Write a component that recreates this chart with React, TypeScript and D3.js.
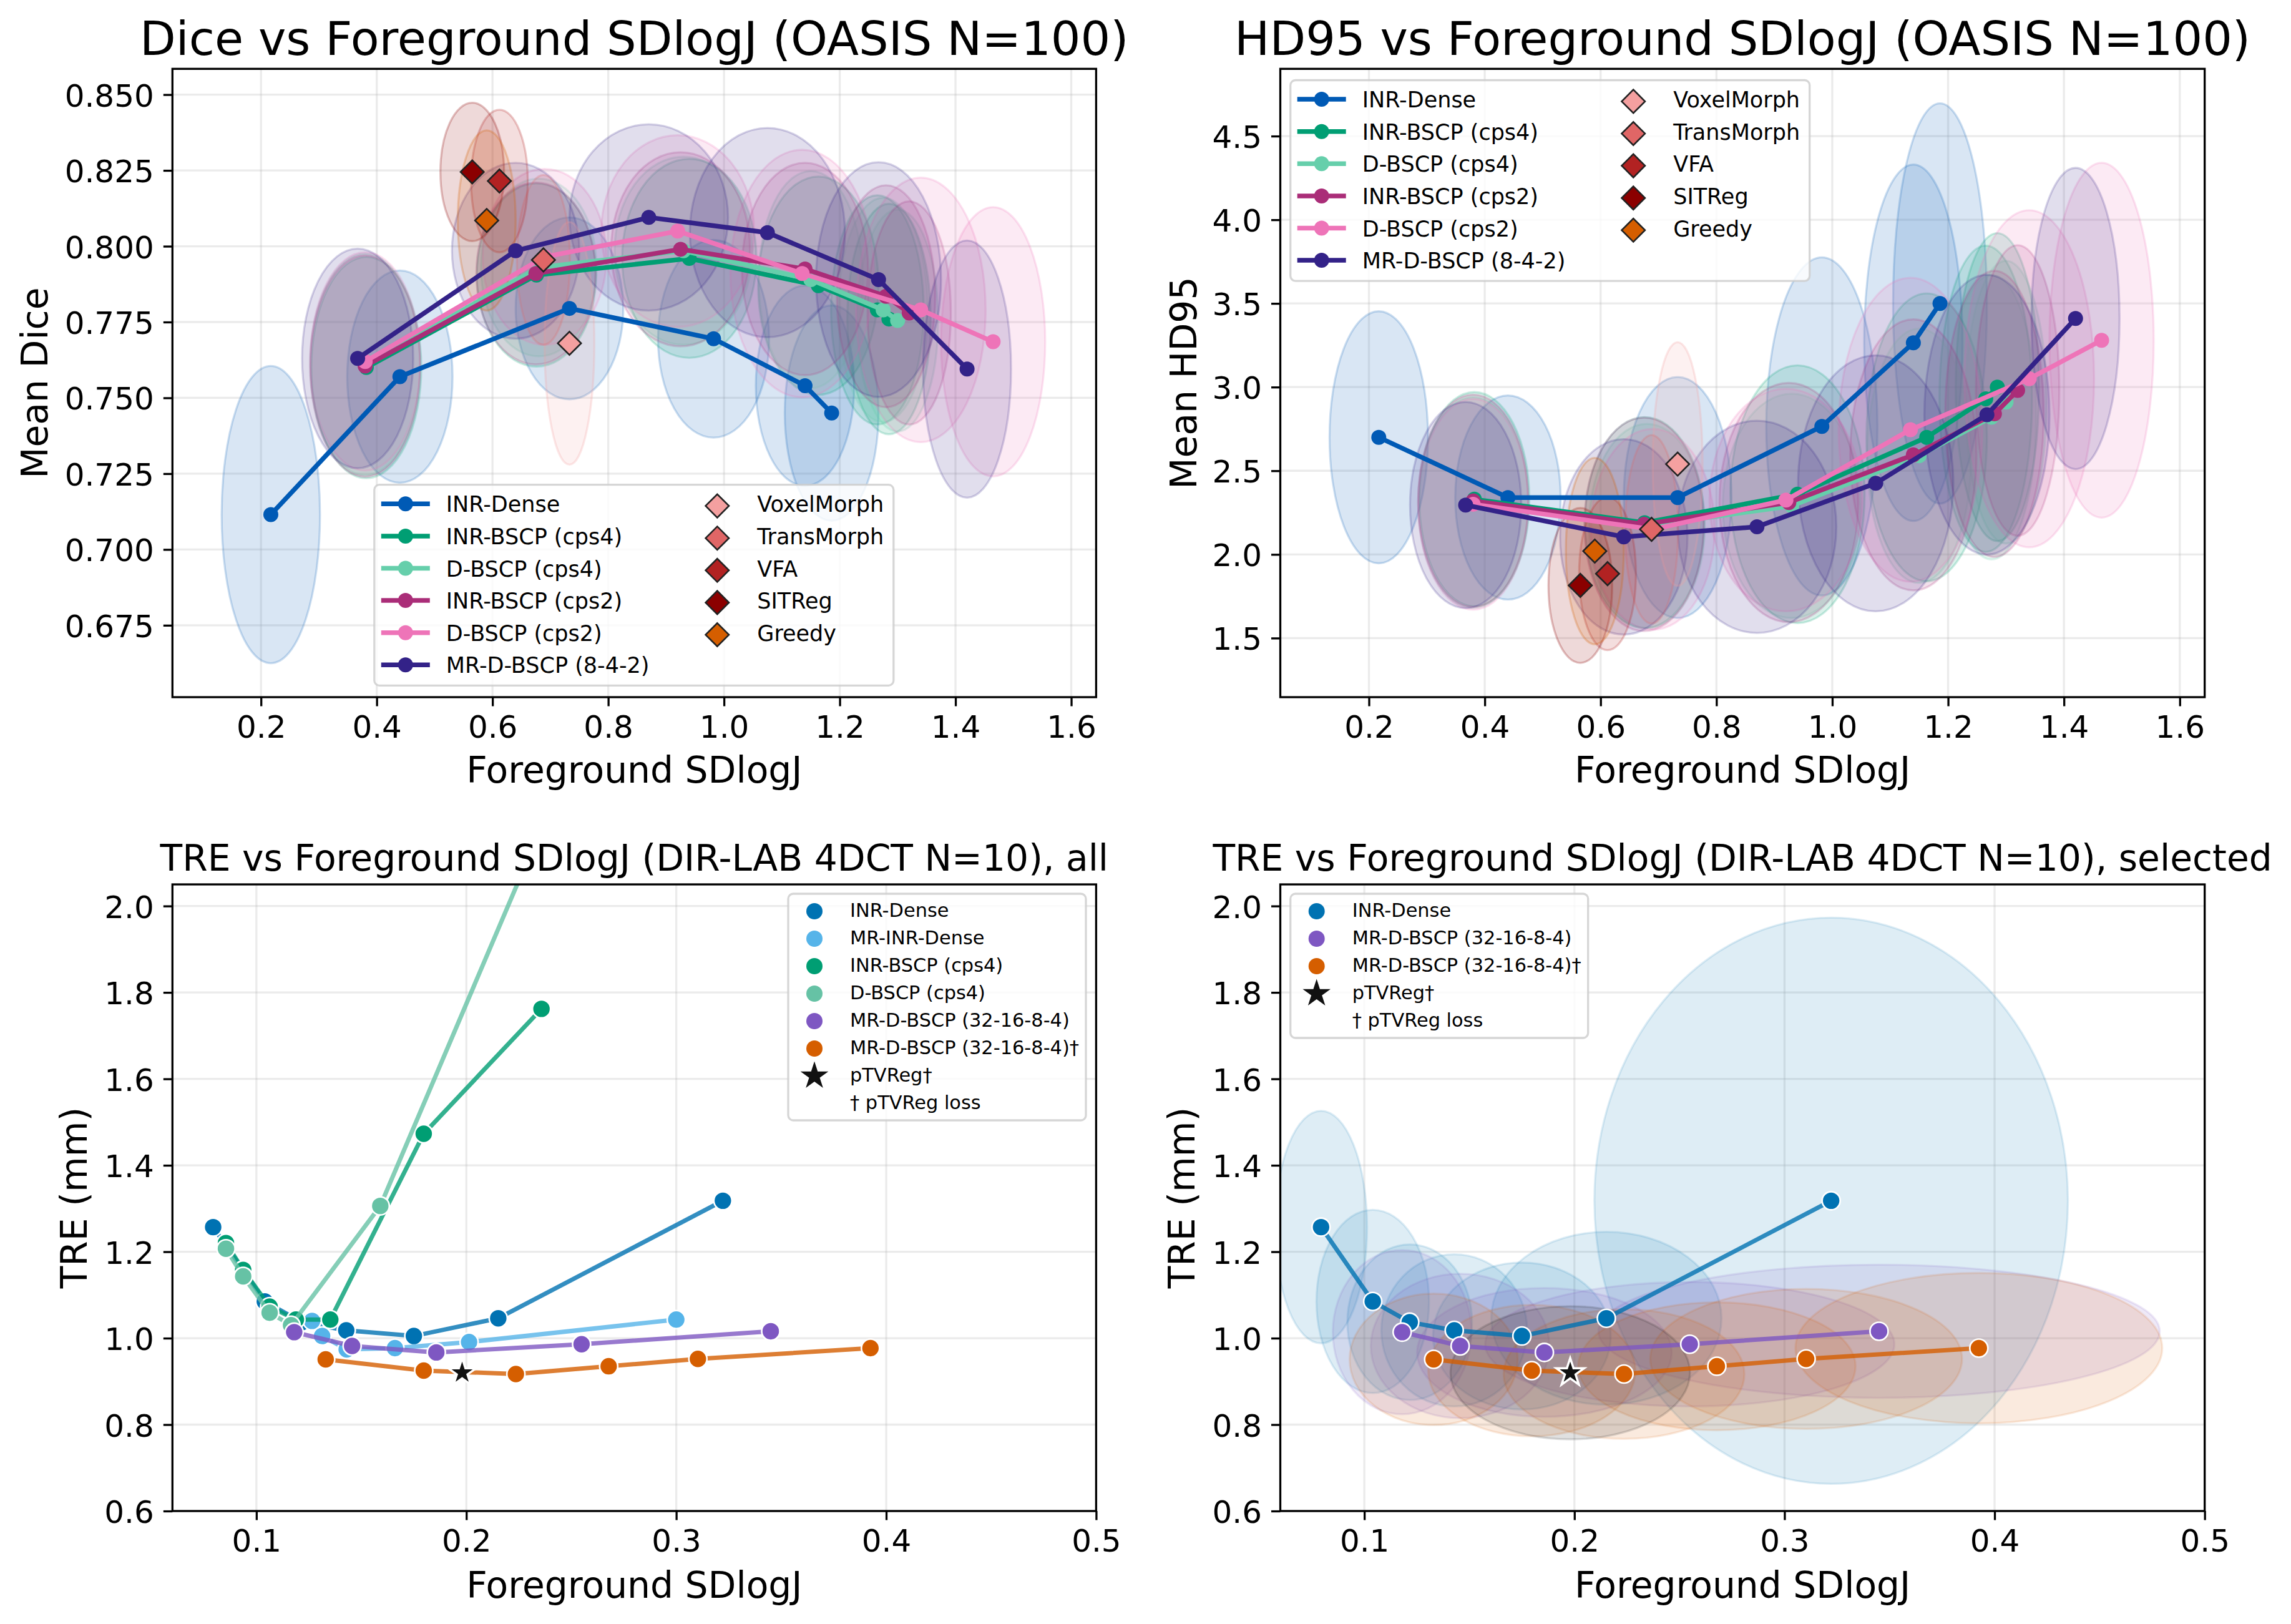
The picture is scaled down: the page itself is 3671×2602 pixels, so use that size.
// App.tsx
import { useEffect, useRef } from "react";
import * as d3 from "d3";

type Curve = { name: string; color: string; x: number[]; y: number[]; rx: number[]; ry: number[] };

const WIDTH = 3671;
const HEIGHT = 2602;
const FONT = "'DejaVu Sans'";

// OASIS curves: x, dice, hd95, then ellipse half widths
const oasisNames = ["INR-Dense", "INR-BSCP (cps4)", "D-BSCP (cps4)", "INR-BSCP (cps2)", "D-BSCP (cps2)", "MR-D-BSCP (8-4-2)"];
const oasisColors = ["#005ab5", "#009e73", "#66cfab", "#aa2d78", "#ee74b8", "#332288"];

const oasisX = [
  [0.217, 0.44, 0.733, 0.982, 1.14, 1.186],
  [0.382, 0.676, 0.94, 1.163, 1.265, 1.285],
  [0.38, 0.68, 0.93, 1.15, 1.275, 1.3],
  [0.38, 0.675, 0.925, 1.14, 1.28, 1.32],
  [0.38, 0.69, 0.92, 1.135, 1.34, 1.465],
  [0.367, 0.64, 0.87, 1.075, 1.267, 1.42],
];
const oasisDice = [
  [0.7115, 0.757, 0.7795, 0.7695, 0.754, 0.745],
  [0.76, 0.7905, 0.796, 0.787, 0.779, 0.776],
  [0.761, 0.793, 0.7985, 0.789, 0.779, 0.7755],
  [0.7605, 0.791, 0.799, 0.7925, 0.7835, 0.778],
  [0.762, 0.7965, 0.805, 0.791, 0.779, 0.7685],
  [0.763, 0.7985, 0.8095, 0.8045, 0.789, 0.7595],
];
const oasisHd = [
  [2.7, 2.34, 2.34, 2.765, 3.265, 3.5],
  [2.33, 2.19, 2.36, 2.7, 2.93, 3.0],
  [2.31, 2.17, 2.29, 2.59, 2.82, 2.91],
  [2.32, 2.18, 2.31, 2.595, 2.84, 2.98],
  [2.3, 2.15, 2.325, 2.745, 3.05, 3.28],
  [2.295, 2.105, 2.165, 2.425, 2.835, 3.41],
];
const oasisRx = [
  [0.085, 0.091, 0.093, 0.096, 0.085, 0.081],
  [0.095, 0.103, 0.116, 0.104, 0.08, 0.072],
  [0.095, 0.1, 0.119, 0.09, 0.077, 0.07],
  [0.095, 0.103, 0.12, 0.109, 0.085, 0.072],
  [0.095, 0.107, 0.132, 0.124, 0.112, 0.09],
  [0.096, 0.11, 0.137, 0.134, 0.108, 0.076],
];
const oasisDiceRy = [
  [0.049, 0.035, 0.03, 0.0326, 0.033, 0.0355],
  [0.0365, 0.0302, 0.0328, 0.036, 0.0378, 0.038],
  [0.0365, 0.0293, 0.031, 0.0358, 0.037, 0.0366],
  [0.0365, 0.03, 0.032, 0.035, 0.0366, 0.0368],
  [0.036, 0.029, 0.0316, 0.0408, 0.0436, 0.0444],
  [0.0362, 0.029, 0.0307, 0.0345, 0.0387, 0.0424],
];
const oasisHdRy = [
  [0.753, 0.61, 0.72, 1.01, 1.065, 1.196],
  [0.64, 0.63, 0.77, 0.86, 0.915, 0.92],
  [0.63, 0.61, 0.67, 0.76, 0.85, 0.845],
  [0.635, 0.638, 0.715, 0.81, 0.855, 0.868],
  [0.63, 0.6, 0.665, 0.908, 1.007, 1.06],
  [0.616, 0.584, 0.634, 0.765, 0.836, 0.9],
];

// baselines (diamonds)
const baseNames = ["VoxelMorph", "TransMorph", "VFA", "SITReg", "Greedy"];
const baseColors = ["#f4a0a0", "#e06666", "#b22222", "#8b0000", "#d55e00"];
const baseX = [0.733, 0.688, 0.612, 0.565, 0.59];
const baseDice = [0.768, 0.7955, 0.8215, 0.8245, 0.8085];
const baseHd = [2.54, 2.15, 1.885, 1.815, 2.02];
const baseRx = [0.043, 0.0458, 0.049, 0.055, 0.05];
const baseDiceRy = [0.04, 0.028, 0.0235, 0.0228, 0.0297];
const baseHdRy = [0.728, 0.563, 0.457, 0.463, 0.557];

// DIR-LAB curves
const treNames = ["INR-Dense", "MR-INR-Dense", "INR-BSCP (cps4)", "D-BSCP (cps4)", "MR-D-BSCP (32-16-8-4)", "MR-D-BSCP (32-16-8-4)†"];
const treColors = ["#0072b2", "#56b4e9", "#009e73", "#66c2a5", "#7e57c2", "#d55e00"];
const treX = [
  [0.0794, 0.104, 0.1216, 0.1428, 0.175, 0.2152, 0.3222],
  [0.1265, 0.1313, 0.143, 0.166, 0.2013, 0.3],
  [0.0855, 0.0937, 0.1063, 0.1188, 0.1352, 0.1797, 0.2358],
  [0.0855, 0.0937, 0.1063, 0.1165, 0.159, 0.24],
  [0.118, 0.1456, 0.1857, 0.2549, 0.345],
  [0.133, 0.1797, 0.2236, 0.2678, 0.3103, 0.3925],
];
const treY = [
  [1.257, 1.085, 1.037, 1.018, 1.005, 1.046, 1.318],
  [1.04, 1.005, 0.974, 0.977, 0.991, 1.043],
  [1.22, 1.158, 1.073, 1.043, 1.043, 1.473, 1.762],
  [1.207, 1.143, 1.059, 1.03, 1.306, 2.23],
  [1.014, 0.982, 0.967, 0.986, 1.016],
  [0.951, 0.925, 0.917, 0.935, 0.952, 0.977],
];
const selectedRx = [
  [0.0219, 0.0268, 0.0297, 0.0347, 0.0423, 0.0548, 0.1127],
  [0.033, 0.0425, 0.0606, 0.0974, 0.1336],
  [0.04, 0.0493, 0.0573, 0.066, 0.0742, 0.0873],
];
const selectedRy = [
  [0.269, 0.212, 0.18, 0.176, 0.17, 0.2, 0.655],
  [0.19, 0.167, 0.149, 0.144, 0.154],
  [0.152, 0.152, 0.15, 0.148, 0.162, 0.174],
];
const ptv = { name: "pTVReg†", x: 0.198, y: 0.92, rx: 0.057, ry: 0.154, color: "#111111" };
const ptvNote = "† pTVReg loss";

const oasisXTicks = [0.2, 0.4, 0.6, 0.8, 1.0, 1.2, 1.4, 1.6];
const diceTicks = [0.675, 0.7, 0.725, 0.75, 0.775, 0.8, 0.825, 0.85];
const hdTicks = [1.5, 2.0, 2.5, 3.0, 3.5, 4.0, 4.5];
const treXTicks = [0.1, 0.2, 0.3, 0.4, 0.5];
const treYTicks = [0.6, 0.8, 1.0, 1.2, 1.4, 1.6, 1.8, 2.0];

const oasisCurves = (ys: number[][], rys: number[][]): Curve[] =>
  oasisNames.map((name, i) => ({ name, color: oasisColors[i], x: oasisX[i], y: ys[i], rx: oasisRx[i], ry: rys[i] }));

const baseMarks = (ys: number[], rys: number[]): Curve[] =>
  baseNames.map((name, i) => ({ name, color: baseColors[i], x: [baseX[i]], y: [ys[i]], rx: [baseRx[i]], ry: [rys[i]] }));

function drawGrid(svg: any, box: any, x: any, y: any, xTicks: number[], yTicks: number[]) {
  const g = svg.append("g").attr("transform", `translate(${box.left},${box.top})`);
  const w = box.right - box.left;
  const h = box.bottom - box.top;
  g.selectAll(".gx").data(xTicks).join("line")
    .attr("x1", (d: number) => x(d)).attr("x2", (d: number) => x(d)).attr("y1", 0).attr("y2", h)
    .attr("stroke", "#b0b0b0").attr("stroke-opacity", 0.25).attr("stroke-width", 3.3);
  g.selectAll(".gy").data(yTicks).join("line")
    .attr("y1", (d: number) => y(d)).attr("y2", (d: number) => y(d)).attr("x1", 0).attr("x2", w)
    .attr("stroke", "#b0b0b0").attr("stroke-opacity", 0.25).attr("stroke-width", 3.3);
  return g;
}

function finishAxes(g: any, box: any, x: any, y: any, xTicks: number[], yTicks: number[], xFmt: string, yFmt: string) {
  const h = box.bottom - box.top;
  const ax = g.append("g").attr("transform", `translate(0,${h})`)
    .call(d3.axisBottom(x).tickValues(xTicks).tickFormat(d3.format(xFmt) as any).tickSize(14.5).tickPadding(15));
  const ay = g.append("g")
    .call(d3.axisLeft(y).tickValues(yTicks).tickFormat(d3.format(yFmt) as any).tickSize(14.5).tickPadding(15));
  [ax, ay].forEach((a: any) => {
    a.selectAll("text").attr("font-family", FONT).attr("font-size", 50).attr("fill", "#000");
    a.selectAll("line").attr("stroke", "#000").attr("stroke-width", 3.3);
    a.select(".domain").remove();
  });
  ay.selectAll("text").attr("dy", "0.37em");
  g.append("rect").attr("width", box.right - box.left).attr("height", h)
    .attr("fill", "none").attr("stroke", "#000").attr("stroke-width", 3.3);
}

function drawEllipses(g: any, curves: Curve[], x: any, y: any, fillAlpha: number, strokeAlpha: number) {
  curves.forEach((c) => {
    c.x.forEach((cx, i) => {
      g.append("ellipse")
        .attr("cx", x(cx)).attr("cy", y(c.y[i]))
        .attr("rx", x(cx + c.rx[i]) - x(cx)).attr("ry", y(c.y[i] - c.ry[i]) - y(c.y[i]))
        .attr("fill", c.color).attr("fill-opacity", fillAlpha)
        .attr("stroke", c.color).attr("stroke-opacity", strokeAlpha).attr("stroke-width", 3.3);
    });
  });
}

function drawLine(g: any, c: Curve, x: any, y: any, width: number, alpha: number) {
  const line = d3.line<number>().x((d) => x(d)).y((_, i) => y(c.y[i]));
  g.append("path").attr("d", line(c.x)).attr("fill", "none")
    .attr("stroke", c.color).attr("stroke-width", width).attr("stroke-opacity", alpha);
}

function drawDiamond(g: any, px: number, py: number, color: string) {
  const path = d3.symbol().type(d3.symbolSquare).size(700)();
  g.append("path").attr("d", path).attr("transform", `translate(${px},${py}) rotate(45)`)
    .attr("fill", color).attr("stroke", "#222").attr("stroke-width", 2.6);
}

function drawStar(g: any, px: number, py: number, withEdge: boolean) {
  const path = d3.symbol().type(d3.symbolStar).size(620)();
  g.append("path").attr("d", path).attr("transform", `translate(${px},${py})`)
    .attr("fill", ptv.color).attr("stroke", withEdge ? "#fff" : "none").attr("stroke-width", 3.5);
}

function legendFrame(svg: any, l: number, t: number, r: number, b: number) {
  svg.append("rect").attr("x", l).attr("y", t).attr("width", r - l).attr("height", b - t).attr("rx", 8)
    .attr("fill", "#fff").attr("fill-opacity", 0.8).attr("stroke", "#cccccc").attr("stroke-opacity", 0.8).attr("stroke-width", 3.3);
}

function legendText(svg: any, px: number, py: number, s: string, size: number) {
  svg.append("text").attr("x", px).attr("y", py).text(s)
    .attr("font-family", FONT).attr("font-size", size).attr("fill", "#000");
}

function oasisLegend(svg: any, lx: number, ty: number) {
  // lx, ty are the frame's corner
  legendFrame(svg, lx, ty, lx + 832, ty + 321.6);
  oasisNames.forEach((name, i) => {
    const py = ty + 30.6 + i * 51.6;
    svg.append("line").attr("x1", lx + 11).attr("x2", lx + 89).attr("y1", py).attr("y2", py)
      .attr("stroke", oasisColors[i]).attr("stroke-width", 7.5);
    svg.append("circle").attr("cx", lx + 50).attr("cy", py).attr("r", 12).attr("fill", oasisColors[i]);
    legendText(svg, lx + 115, py + 13, name, 35);
  });
  baseNames.forEach((name, i) => {
    const py = ty + 30.6 + i * 51.6;
    drawDiamond(svg, lx + 549.5, py + 3.3, baseColors[i]);
    legendText(svg, lx + 613.5, py + 13, name, 35);
  });
}

function treLegend(svg: any, lx: number, ty: number, names: string[], colors: string[]) {
  const rows = names.length + 2;
  legendFrame(svg, lx, ty, lx + 477, ty + 11 + rows * 44);
  names.forEach((name, i) => {
    const py = ty + 28 + i * 44;
    svg.append("circle").attr("cx", lx + 42).attr("cy", py).attr("r", 13).attr("fill", colors[i]);
    legendText(svg, lx + 99, py + 9, name, 30.4);
  });
  const py = ty + 28 + names.length * 44;
  drawStar(svg, lx + 42, py, false);
  legendText(svg, lx + 99, py + 9, ptv.name, 30.4);
  legendText(svg, lx + 99, py + 53, ptvNote, 30.4);
}

function titles(svg: any, box: any, title: string, titleSize: number, titleY: number, xLabel: string, xLabelY: number, yLabel: string, yLabelX: number) {
  const cx = (box.left + box.right) / 2;
  const cy = (box.top + box.bottom) / 2;
  svg.append("text").attr("x", cx).attr("y", titleY).attr("text-anchor", "middle").text(title)
    .attr("font-family", FONT).attr("font-size", titleSize);
  svg.append("text").attr("x", cx).attr("y", xLabelY).attr("text-anchor", "middle").text(xLabel)
    .attr("font-family", FONT).attr("font-size", 58.3);
  svg.append("text").attr("transform", `translate(${yLabelX},${cy}) rotate(-90)`).attr("text-anchor", "middle")
    .attr("dy", "0.36em").text(yLabel).attr("font-family", FONT).attr("font-size", 58.3);
}

function drawOasisPanel(svg: any, id: string, box: any, yDomain: number[], ys: number[][], rys: number[][], bY: number[], bRy: number[], yTicks: number[], yFmt: string) {
  const x = d3.scaleLinear().domain([0.047, 1.643]).range([0, box.right - box.left]);
  const y = d3.scaleLinear().domain(yDomain).range([box.bottom - box.top, 0]);
  const g = drawGrid(svg, box, x, y, oasisXTicks, yTicks);
  svg.append("clipPath").attr("id", id).append("rect").attr("width", box.right - box.left).attr("height", box.bottom - box.top);
  const plot = g.append("g").attr("clip-path", `url(#${id})`);
  const curves = oasisCurves(ys, rys);
  const marks = baseMarks(bY, bRy);
  drawEllipses(plot, curves, x, y, 0.15, 0.2);
  drawEllipses(plot, marks, x, y, 0.15, 0.25);
  curves.forEach((c) => {
    drawLine(plot, c, x, y, 7.5, 1);
    c.x.forEach((v, i) => {
      plot.append("circle").attr("cx", x(v)).attr("cy", y(c.y[i])).attr("r", 12).attr("fill", c.color);
    });
  });
  marks.forEach((m) => drawDiamond(plot, x(m.x[0]), y(m.y[0]), m.color));
  finishAxes(g, box, x, y, oasisXTicks, yTicks, ".1f", yFmt);
}

function drawTrePanel(svg: any, id: string, box: any, curves: Curve[], showEllipses: boolean) {
  const x = d3.scaleLinear().domain([0.06, 0.5]).range([0, box.right - box.left]);
  const y = d3.scaleLinear().domain([0.6, 2.05]).range([box.bottom - box.top, 0]);
  const g = drawGrid(svg, box, x, y, treXTicks, treYTicks);
  svg.append("clipPath").attr("id", id).append("rect").attr("width", box.right - box.left).attr("height", box.bottom - box.top);
  const plot = g.append("g").attr("clip-path", `url(#${id})`);
  if (showEllipses) {
    drawEllipses(plot, curves, x, y, 0.13, 0.13);
    drawEllipses(plot, [{ name: ptv.name, color: ptv.color, x: [ptv.x], y: [ptv.y], rx: [ptv.rx], ry: [ptv.ry] }], x, y, 0.13, 0.15);
  }
  curves.forEach((c) => {
    drawLine(plot, c, x, y, 7, 0.8);
    c.x.forEach((v, i) => {
      plot.append("circle").attr("cx", x(v)).attr("cy", y(c.y[i])).attr("r", 14.5)
        .attr("fill", c.color).attr("stroke", "#fff").attr("stroke-width", 2.6);
    });
  });
  drawStar(plot, x(ptv.x), y(ptv.y), true);
  finishAxes(g, box, x, y, treXTicks, treYTicks, ".1f", ".1f");
}

export default function App() {
  const ref = useRef<SVGSVGElement | null>(null);

  useEffect(() => {
    if (!ref.current) return;
    const svg = d3.select(ref.current);
    svg.selectAll("*").remove();

    const box1 = { left: 276.3, right: 1756.4, top: 110.3, bottom: 1117 };
    const box2 = { left: 2051.5, right: 3532.7, top: 110.3, bottom: 1117 };
    const box3 = { left: 276.3, right: 1756.4, top: 1417, bottom: 2421 };
    const box4 = { left: 2051.5, right: 3532.7, top: 1417, bottom: 2421 };

    drawOasisPanel(svg, "clip1", box1, [0.6513, 0.8585], oasisDice, oasisDiceRy, baseDice, baseDiceRy, diceTicks, ".3f");
    drawOasisPanel(svg, "clip2", box2, [1.147, 4.902], oasisHd, oasisHdRy, baseHd, baseHdRy, hdTicks, ".1f");

    const treAll: Curve[] = treNames.map((name, i) => ({ name, color: treColors[i], x: treX[i], y: treY[i], rx: [], ry: [] }));
    drawTrePanel(svg, "clip3", box3, treAll, false);

    const selectedIdx = [0, 4, 5];
    const treSelected: Curve[] = selectedIdx.map((k, i) => ({
      name: treNames[k], color: treColors[k], x: treX[k], y: treY[k], rx: selectedRx[i], ry: selectedRy[i],
    }));
    drawTrePanel(svg, "clip4", box4, treSelected, true);

    titles(svg, box1, "Dice vs Foreground SDlogJ (OASIS N=100)", 75, 88, "Foreground SDlogJ", 1254, "Mean Dice", 55);
    titles(svg, box2, "HD95 vs Foreground SDlogJ (OASIS N=100)", 75, 88, "Foreground SDlogJ", 1254, "Mean HD95", 1896);
    titles(svg, box3, "TRE vs Foreground SDlogJ (DIR-LAB 4DCT N=10), all", 58.3, 1395, "Foreground SDlogJ", 2560, "TRE (mm)", 118);
    titles(svg, box4, "TRE vs Foreground SDlogJ (DIR-LAB 4DCT N=10), selected", 58.3, 1395, "Foreground SDlogJ", 2560, "TRE (mm)", 1893);

    oasisLegend(svg, 599.8, 776.7);
    oasisLegend(svg, 2067.7, 128.5);
    treLegend(svg, 1263, 1432, treNames, treColors);
    treLegend(svg, 2067.7, 1432, selectedIdx.map((k) => treNames[k]), selectedIdx.map((k) => treColors[k]));
  }, []);

  return (
    <svg ref={ref} width={WIDTH} height={HEIGHT} viewBox={`0 0 ${WIDTH} ${HEIGHT}`}
      style={{ position: "absolute", left: 0, top: 0, background: "#fff" }} />
  );
}
